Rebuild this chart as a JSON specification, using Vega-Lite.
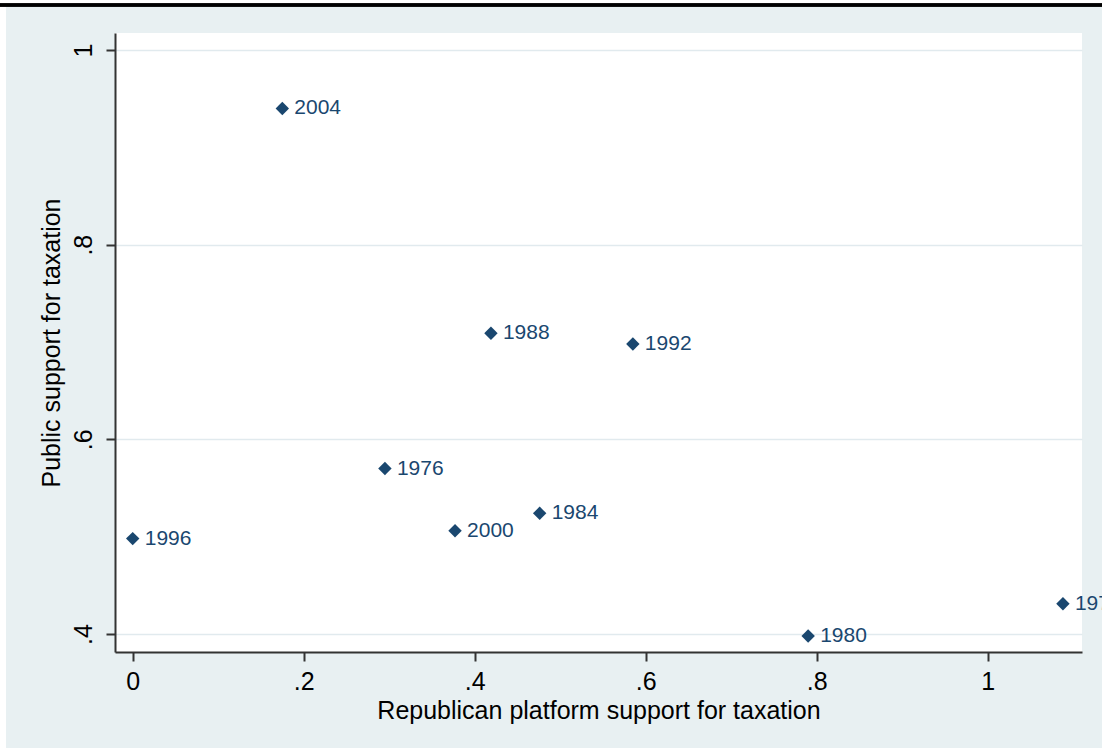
{
  "$schema": "https://vega.github.io/schema/vega-lite/v6.json",
  "width": 967,
  "height": 619,
  "autosize": {"type": "none"},
  "padding": {"left": 115, "top": 33, "right": 20, "bottom": 96},
  "background": "#E8F0F2",
  "config": {
    "view": {"fill": "white", "stroke": null},
    "font": "Liberation Sans"
  },
  "data": {
    "values": [
      {"year": "1972", "platform": 1.088, "public": 0.431},
      {"year": "1976", "platform": 0.295, "public": 0.570},
      {"year": "1980", "platform": 0.790, "public": 0.398},
      {"year": "1984", "platform": 0.476, "public": 0.524},
      {"year": "1988", "platform": 0.419, "public": 0.709},
      {"year": "1992", "platform": 0.585, "public": 0.698},
      {"year": "1996", "platform": 0.000, "public": 0.498},
      {"year": "2000", "platform": 0.377, "public": 0.506},
      {"year": "2004", "platform": 0.175, "public": 0.940}
    ]
  },
  "layer": [
    {
      "mark": {"type": "rule", "color": "white", "strokeWidth": 6},
      "encoding": {
        "x": {"datum": -0.1517, "type": "quantitative"},
        "y": {"datum": 1.05, "type": "quantitative"},
        "y2": {"datum": 0.2}
      }
    },
    {
      "mark": {"type": "rule", "color": "white", "strokeWidth": 5},
      "encoding": {
        "x": {"datum": -0.3, "type": "quantitative"},
        "x2": {"datum": 1.4},
        "y": {"datum": 1.0493, "type": "quantitative"}
      }
    },
    {
      "mark": {"type": "rule", "color": "black", "strokeWidth": 2.6},
      "encoding": {
        "x": {"datum": -0.3, "type": "quantitative"},
        "x2": {"datum": 1.4},
        "y": {"datum": 1.0462, "type": "quantitative"}
      }
    },
    {
      "mark": {"type": "point", "shape": "diamond", "filled": true, "size": 180, "color": "#1A476F", "opacity": 1},
      "encoding": {
        "x": {
          "field": "platform",
          "type": "quantitative",
          "scale": {"domain": [-0.0207, 1.1103], "nice": false, "zero": false},
          "axis": {
            "title": "Republican platform support for taxation",
            "values": [0, 0.2, 0.4, 0.6, 0.8, 1],
            "labelExpr": "datum.value == 0 ? '0' : datum.value == 1 ? '1' : slice(format(datum.value, '.1f'), 1)",
            "grid": false,
            "domainColor": "#333333",
            "domainWidth": 2,
            "tickColor": "#333333",
            "tickWidth": 2,
            "tickSize": 9,
            "labelPadding": 8,
            "labelBaseline": "top",
            "labelFontSize": 25,
            "labelColor": "black",
            "titleFontSize": 25,
            "titleFontWeight": "normal",
            "titleColor": "black",
            "titlePadding": 4
          }
        },
        "y": {
          "field": "public",
          "type": "quantitative",
          "scale": {"domain": [0.3815, 1.0175], "nice": false, "zero": false},
          "axis": {
            "title": "Public support for taxation",
            "values": [0.4, 0.6, 0.8, 1],
            "labelExpr": "datum.value == 0 ? '0' : datum.value == 1 ? '1' : slice(format(datum.value, '.1f'), 1)",
            "grid": true,
            "gridColor": "#E1EAEE",
            "gridWidth": 1.5,
            "domainColor": "#333333",
            "domainWidth": 2,
            "tickColor": "#333333",
            "tickWidth": 2,
            "tickSize": 9,
            "labelAngle": 270,
            "labelAlign": "center",
            "labelBaseline": "alphabetic",
            "labelPadding": 15,
            "labelFontSize": 25,
            "labelColor": "black",
            "titleFontSize": 25,
            "titleFontWeight": "normal",
            "titleColor": "black",
            "titlePadding": 7
          }
        }
      }
    },
    {
      "mark": {"type": "text", "align": "left", "baseline": "middle", "dx": 12, "fontSize": 21, "color": "#1A476F"},
      "encoding": {
        "x": {"field": "platform", "type": "quantitative"},
        "y": {"field": "public", "type": "quantitative"},
        "text": {"field": "year"}
      }
    }
  ]
}
